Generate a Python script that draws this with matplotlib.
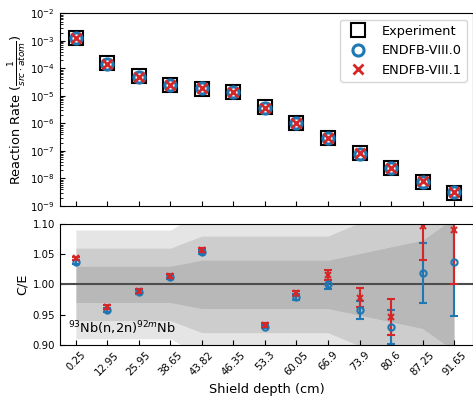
import numpy as np
import matplotlib.pyplot as plt

# shield depths (cm) used as categorical tick labels
depths = ['0.25', '12.95', '25.95', '38.65', '43.82', '46.35', '53.3',
          '60.05', '66.9', '73.9', '80.6', '87.25', '91.65']

# measured and calculated reaction rates (1/(src*atom))
rate_exp = [1.23e-3, 1.52e-4, 5.1e-5, 2.4e-5, 1.77e-5, 1.35e-5, 3.8e-6,
            1.02e-6, 2.94e-7, 8.3e-8, 2.5e-8, 7.4e-9, 3.0e-9]
rate_80 = [1.28e-3, 1.46e-4, 5.03e-5, 2.43e-5, 1.87e-5, 1.33e-5, 3.53e-6,
           1.0e-6, 2.94e-7, 7.9e-8, 2.32e-8, 7.5e-9, 3.1e-9]
rate_81 = [1.28e-3, 1.46e-4, 5.04e-5, 2.43e-5, 1.87e-5, 1.34e-5, 3.55e-6,
           1.0e-6, 2.98e-7, 8.1e-8, 2.37e-8, 8.1e-9, 3.3e-9]

# C/E ratios and their uncertainties (no C/E at 46.35 cm)
ce_80 = [1.037, 0.958, 0.987, 1.012, 1.054, np.nan, 0.930, 0.979, 1.000,
         0.957, 0.929, 1.019, 1.037]
ce_80_err = [0.003, 0.003, 0.003, 0.003, 0.003, np.nan, 0.003, 0.005, 0.007,
             0.015, 0.028, 0.05, 0.09]
ce_81 = [1.043, 0.962, 0.989, 1.014, 1.057, np.nan, 0.933, 0.985, 1.015,
         0.978, 0.946, 1.097, 1.090]
ce_81_err = [0.003, 0.003, 0.003, 0.003, 0.003, np.nan, 0.003, 0.004, 0.008,
             0.016, 0.03, 0.057, 0.089]

# relative experimental uncertainty (1 sigma)
exp_unc = [0.03, 0.03, 0.03, 0.03, 0.04, 0.04, 0.04, 0.04, 0.04,
           0.051, 0.062, 0.073, 0.11]

blue = '#1f77b4'
red = '#d62728'

x = np.arange(len(depths))
unc = np.array(exp_unc)

fig = plt.figure(figsize=(4.73, 3.99), dpi=100)
ax1 = fig.add_axes([0.127, 0.4837, 0.873, 0.483])
ax2 = fig.add_axes([0.127, 0.136, 0.873, 0.3026], sharex=ax1)

# top panel: reaction rates
ax1.plot(x, rate_exp, 's', ms=10, mfc='none', mec='k', mew=1.5, label='Experiment')
ax1.plot(x, rate_80, 'o', ms=8, mfc='none', mec=blue, mew=2.2, label='ENDFB-VIII.0')
ax1.plot(x, rate_81, 'x', ms=7, mec=red, mew=2, label='ENDFB-VIII.1')
ax1.set_yscale('log')
ax1.set_ylim(1e-9, 1e-2)
ax1.set_yticks([10.0**k for k in range(-9, -1)])
ax1.set_ylabel(r'Reaction Rate ($\frac{1}{src \cdot atom}$)', fontsize=9.3)
ax1.legend(loc='upper right', fontsize=9.3)
ax1.tick_params(axis='both', which='both', direction='in', labelsize=7.3)
ax1.tick_params(axis='x', labelbottom=False)

# bottom panel: C/E with 1-2-3 sigma bands
for k in (3, 2, 1):
    ax2.fill_between(x, 1 - k * unc, 1 + k * unc, color='k', alpha=0.1, lw=0)
ax2.axhline(1.0, color='0.3', lw=1.5)
ax2.errorbar(x, ce_80, yerr=ce_80_err, fmt='o', ms=4.5, mfc='none', mew=1.5,
             color=blue, capsize=3.2, elinewidth=1.5, capthick=1.5)
ax2.errorbar(x, ce_81, yerr=ce_81_err, fmt='x', ms=4, mew=1.5,
             color=red, capsize=3.2, elinewidth=1.5, capthick=1.5)
ax2.set_ylim(0.9, 1.1)
ax2.set_yticks([0.90, 0.95, 1.00, 1.05, 1.10])
ax2.set_xlim(-0.5, 12.6)
ax2.set_xticks(x)
ax2.set_xticklabels(depths, rotation=45)
ax2.set_xlabel('Shield depth (cm)', fontsize=9.3)
ax2.set_ylabel('C/E', fontsize=9.3)
ax2.tick_params(axis='both', which='both', direction='in', labelsize=7.3)
ax2.text(0.02, 0.094, r'$^{93}$Nb(n,2n)$^{92m}$Nb', transform=ax2.transAxes,
         fontsize=9.3, ha='left', va='baseline')

ax1.yaxis.set_label_coords(-0.076, 0.5)
ax2.yaxis.set_label_coords(-0.076, 0.5)

fig.savefig('out.png', dpi=100)
